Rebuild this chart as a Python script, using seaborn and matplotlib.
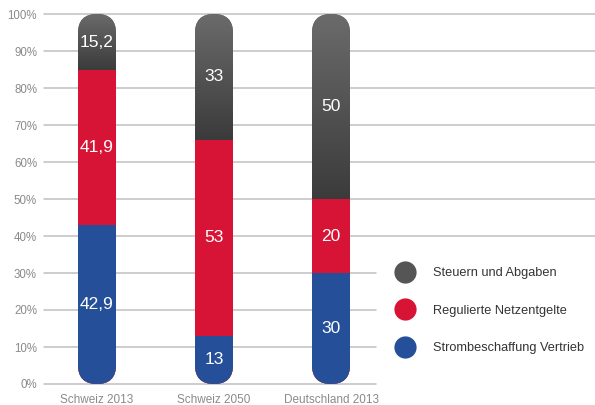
import numpy as np
import pandas as pd
import matplotlib
matplotlib.use("Agg")
import matplotlib.pyplot as plt
import seaborn as sns
from matplotlib.patches import FancyBboxPatch
from matplotlib.transforms import IdentityTransform
from matplotlib.colors import LinearSegmentedColormap
from matplotlib.lines import Line2D

categories = ["Schweiz 2013", "Schweiz 2050", "Deutschland 2013"]
strom = [42.9, 13, 30]
netz = [41.9, 53, 20]
steuern = [15.2, 33, 50]
strom_labels = ["42,9", "13", "30"]
netz_labels = ["41,9", "53", "20"]
steuern_labels = ["15,2", "33", "50"]
series_names = ["Steuern und Abgaben", "Regulierte Netzentgelte", "Strombeschaffung Vertrieb"]
yticks = [0, 10, 20, 30, 40, 50, 60, 70, 80, 90, 100]

BLUE = "#264f99"
RED = "#d81436"
GREY = "#505050"

sns.set_style("white")
plt.rcParams["font.family"] = ["Liberation Sans", "DejaVu Sans"]

fig = plt.figure(figsize=(5.95, 4.05), dpi=100)
ax = fig.add_axes([44/595, 21/405, 551/595, 370/405])

df = pd.DataFrame({
    "cat": categories,
    "blue": strom,
    "redtop": np.array(strom) + np.array(netz),
    "total": [100, 100, 100],
})
W = 38/117
sns.barplot(data=df, x="cat", y="total", order=categories, color=GREY, width=W,
            saturation=1, ax=ax, zorder=2)
sns.barplot(data=df, x="cat", y="redtop", order=categories, color=RED, width=W,
            saturation=1, ax=ax, zorder=3)
sns.barplot(data=df, x="cat", y="blue", order=categories, color=BLUE, width=W,
            saturation=1, ax=ax, zorder=4)

x_left = -53/117
x_right = x_left + 551/117
ax.set_xlim(x_left, x_right)
ax.set_ylim(0, 100)

# grid lines
for t in yticks:
    xmax = 1.0 if t >= 40 else (376-44)/551
    ax.axhline(t, xmin=0, xmax=xmax, color="#c0c0c0", lw=1.1, zorder=1, clip_on=False)

# capsule clip paths
caps = []
for i in range(len(categories)):
    (dx0, dy0) = ax.transData.transform((i - W/2, 0))
    (dx1, dy1) = ax.transData.transform((i + W/2, 100))
    dw = dx1 - dx0
    cap = FancyBboxPatch((dx0, dy0), dw, dy1 - dy0,
                         boxstyle=f"round,pad=0,rounding_size={dw/2}",
                         transform=IdentityTransform(), facecolor="none", edgecolor="none")
    caps.append(cap)

for p in ax.patches:
    cx = p.get_x() + p.get_width()/2
    i = int(round(cx))
    if 0 <= i < len(caps):
        p.set_clip_path(caps[i])
        p.set_edgecolor("none")

# gradient on grey segments
cmap = LinearSegmentedColormap.from_list("g", ["#3b3b3b", "#6b6b6b"])
grad = np.linspace(0, 1, 256).reshape(-1, 1)
for i in range(len(categories)):
    yb = strom[i] + netz[i]
    im = ax.imshow(grad, extent=(i - W/2, i + W/2, yb, 100), origin="lower",
                   aspect="auto", cmap=cmap, zorder=2.5)
    im.set_clip_path(caps[i])
ax.set_xlim(x_left, x_right)
ax.set_ylim(0, 100)

# value labels
for i in range(len(categories)):
    b, r, s = strom[i], netz[i], steuern[i]
    kw = dict(ha="center", va="center", color="white", fontsize=12.5, zorder=6)
    ax.text(i, b/2, strom_labels[i], **kw)
    ax.text(i, b + r/2, netz_labels[i], **kw)
    ax.text(i, (b + r + 100)/2, steuern_labels[i], **kw)

ax.set_yticks(yticks)
ax.set_yticklabels([f"{t}%" for t in yticks])
ax.set_xticks(range(len(categories)))
ax.set_xticklabels(categories)
ax.tick_params(axis="y", length=0, pad=5, labelsize=8.3, labelcolor="#8a8a8a")
ax.tick_params(axis="x", length=0, pad=7, labelsize=8.5, labelcolor="#8a8a8a")
ax.set_xlabel("")
ax.set_ylabel("")
for sp in ax.spines.values():
    sp.set_visible(False)

handles = [Line2D([], [], marker="o", ls="none", markersize=16, markerfacecolor=c,
                  markeredgecolor="none") for c in ["#555555", RED, BLUE]]
leg = ax.legend(handles, series_names, loc="upper left",
                bbox_to_anchor=(388/595, (405-261)/405), bbox_transform=fig.transFigure,
                frameon=False, fontsize=9.2, labelspacing=2.0, handletextpad=1.39,
                borderpad=0, handlelength=1.6)
for t in leg.get_texts():
    t.set_color("#333333")

fig.savefig("out.png", dpi=100)
